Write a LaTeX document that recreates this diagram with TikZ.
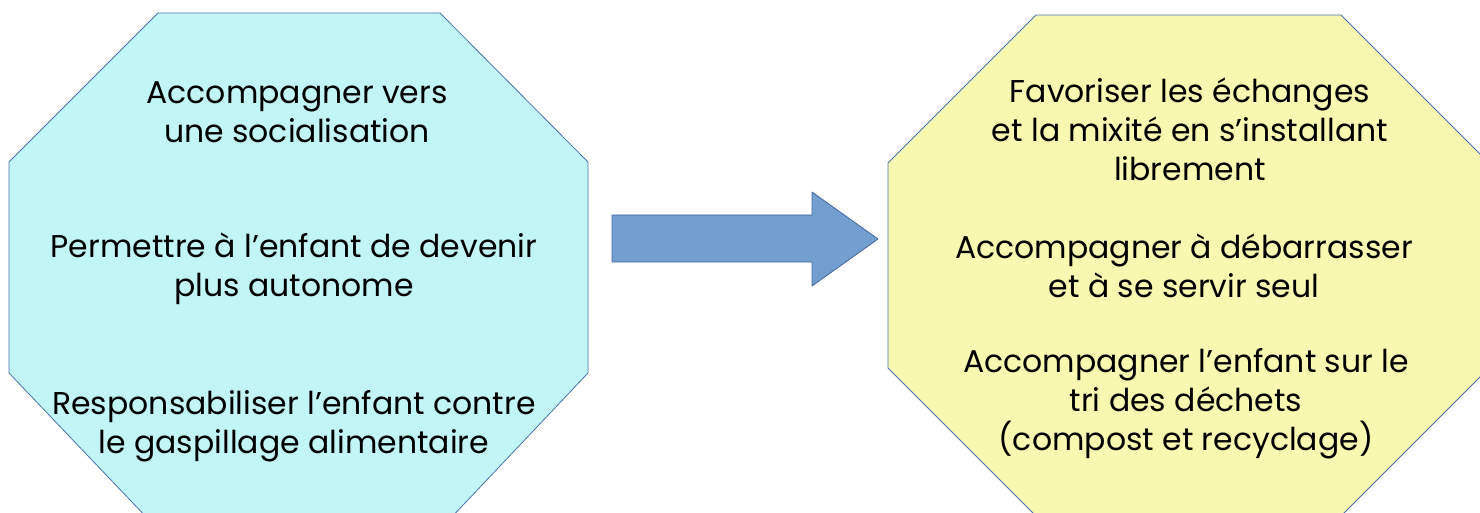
\documentclass[tikz,border=0pt]{standalone}
\usepackage{fontspec}
\setmainfont{Poppins}
\definecolor{cyanfill}{HTML}{C2F5F5}
\definecolor{yellowfill}{HTML}{F8F8B0}
\definecolor{edgeblue}{HTML}{4A72B0}
\definecolor{arrowblue}{HTML}{729FCF}
\begin{document}
\begin{tikzpicture}[x=1pt, y=-1pt, line join=round,
	octa/.style={draw=edgeblue, line width=0.8pt},
	txt/.style={align=center, font=\fontsize{31.5}{39}\selectfont, inner sep=0pt}]
	\useasboundingbox (0,0) rectangle (1480,513);
	\clip (0,0) rectangle (1480,513);
	% left octagon
	\path 	(158,13) coordinate (L1)
	(440,13) coordinate (L2)
	(588,162) coordinate (L3)
	(588,373) coordinate (L4)
	(448,521) coordinate (L5)
	(150,521) coordinate (L6)
	(9,373) coordinate (L7)
	(9,162) coordinate (L8);
	\filldraw[octa, fill=cyanfill] (L1) -- (L2) -- (L3) -- (L4) -- (L5) -- (L6) -- (L7) -- (L8) -- cycle;
	% right octagon
	\path 	(1036,15) coordinate (R1)
	(1341,15) coordinate (R2)
	(1489,163) coordinate (R3)
	(1489,368) coordinate (R4)
	(1341,516) coordinate (R5)
	(1036,516) coordinate (R6)
	(888,368) coordinate (R7)
	(888,163) coordinate (R8);
	\filldraw[octa, fill=yellowfill] (R1) -- (R2) -- (R3) -- (R4) -- (R5) -- (R6) -- (R7) -- (R8) -- cycle;
	% arrow
	\filldraw[draw=edgeblue!90!black, line width=0.8pt, fill=arrowblue]
		(612,215) coordinate (A1) -- (812,215) -- (812,192) -- (878,239) coordinate (tip)
		-- (812,286) -- (812,262) -- (612,262) -- cycle;
	% texts
	\node[txt] (socialisation) at (297,112) {Accompagner vers\\ une socialisation};
	\node[txt] (autonome) at (294,269) {Permettre à l’enfant de devenir\\plus autonome};
	\node[txt] (gaspillage) at (294,426) {Responsabiliser l’enfant contre\\le gaspillage alimentaire};
	\node[txt] (echanges) at (1190,129) {Favoriser les échanges\\ et la mixité en s’installant\\librement};
	\node[txt] (debarrasser) at (1184,266) {Accompagner à débarrasser\\et à se servir seul};
	\node[txt] (tri) at (1186,404) {Accompagner l’enfant sur le\\tri des déchets\\ (compost et recyclage)};
\end{tikzpicture}
\end{document}
